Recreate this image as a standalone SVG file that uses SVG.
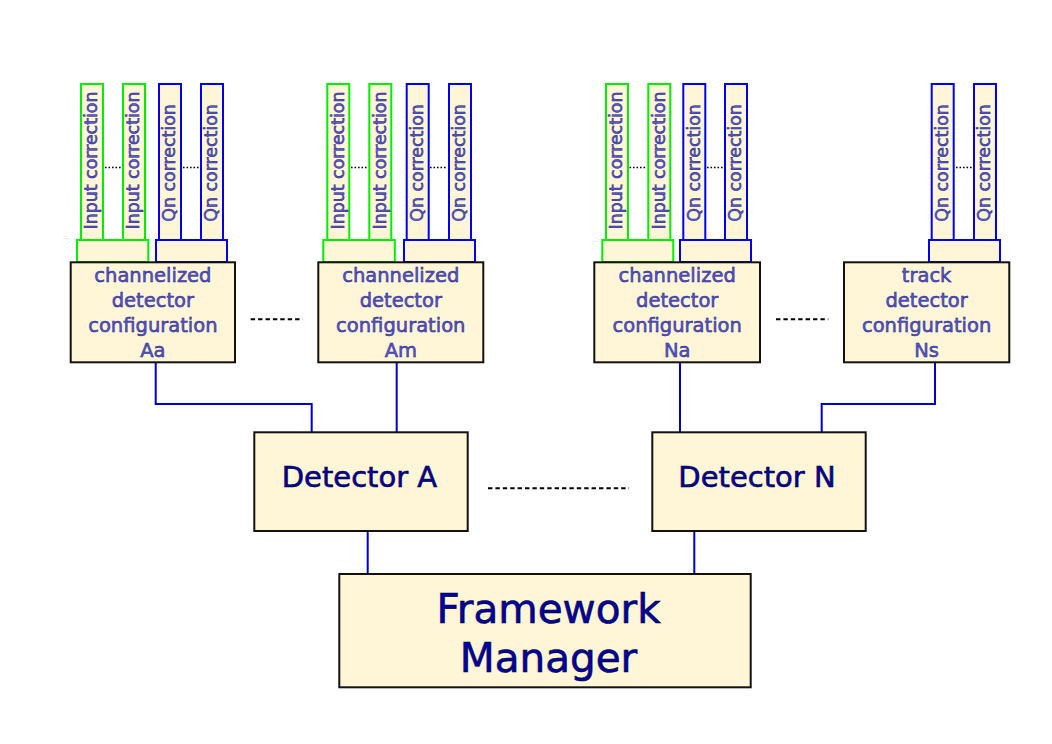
<svg xmlns="http://www.w3.org/2000/svg" width="1052" height="744" viewBox="0 0 1052 744">
<defs>
<style>
.box{fill:#fff5d7;stroke:#111;stroke-width:2}
.gbar{fill:#fff5d7;stroke:#00ee00;stroke-width:2}
.bbar{fill:#fff5d7;stroke:#0000ee;stroke-width:2}
.conn{fill:none;stroke:#0000cc;stroke-width:2}
.dash{fill:none;stroke:#000;stroke-width:2;stroke-dasharray:4.4 3}
.dot{fill:none;stroke:#000;stroke-width:1.6;stroke-dasharray:1.6 1.9}
.bt{font-family:"DejaVu Sans",sans-serif;font-size:17.4px;fill:#5a5ac8;stroke:#1e1e88;stroke-width:0.5;text-anchor:middle}
.ct{font-family:"DejaVu Sans",sans-serif;font-size:19.5px;fill:#5a5ac8;stroke:#1e1e88;stroke-width:0.5;text-anchor:middle}
.dt{font-family:"DejaVu Sans",sans-serif;font-size:29px;fill:#0000a8;stroke:#000022;stroke-width:0.6;text-anchor:middle}
.ft{font-family:"DejaVu Sans",sans-serif;font-size:40.5px;fill:#0000a8;stroke:#000022;stroke-width:0.6;text-anchor:middle}
</style>
</defs>
<rect width="1052" height="744" fill="#fff"/>

<g id="connectors">
<polyline class="conn" points="155.7,362 155.7,404 311.7,404 311.7,432"/>
<line class="conn" x1="396.7" y1="362" x2="396.7" y2="432"/>
<line class="conn" x1="680" y1="362" x2="680" y2="432"/>
<polyline class="conn" points="935,362 935,404 821.7,404 821.7,432"/>
<line class="conn" x1="367.7" y1="531" x2="367.7" y2="574"/>
<line class="conn" x1="694.3" y1="531" x2="694.3" y2="574"/>
<line class="dash" x1="250.7" y1="319.3" x2="302.7" y2="319.3"/>
<line class="dash" x1="776" y1="319.3" x2="828.3" y2="319.3"/>
<line class="dash" x1="488" y1="488.3" x2="629" y2="488.3"/>
<line class="dot" x1="105" y1="167.5" x2="121" y2="167.5"/>
<line class="dot" x1="183" y1="167.5" x2="199" y2="167.5"/>
<line class="dot" x1="351" y1="167.5" x2="367" y2="167.5"/>
<line class="dot" x1="430" y1="167.5" x2="447" y2="167.5"/>
<line class="dot" x1="629.5" y1="167.5" x2="646" y2="167.5"/>
<line class="dot" x1="707" y1="167.5" x2="723" y2="167.5"/>
<line class="dot" x1="956" y1="167.5" x2="972" y2="167.5"/>
</g>

<g id="config-Aa">
<rect class="gbar" x="81" y="84" width="22" height="156"/>
<text class="bt" transform="translate(97.3,160.5) rotate(-90)">Input correction</text>
<rect class="gbar" x="123" y="84" width="22" height="156"/>
<text class="bt" transform="translate(139.3,160.5) rotate(-90)">Input correction</text>
<rect class="bbar" x="159" y="84" width="22" height="156"/>
<text class="bt" transform="translate(175.3,163) rotate(-90)">Qn correction</text>
<rect class="bbar" x="201" y="84" width="22" height="156"/>
<text class="bt" transform="translate(217.3,163) rotate(-90)">Qn correction</text>
<rect class="gbar" x="77" y="240" width="71.3" height="22"/>
<rect class="bbar" x="156" y="240" width="71" height="22"/>
<rect class="box" x="70.7" y="262.3" width="164.3" height="100"/>
<text class="ct" x="152.9" y="282">channelized</text>
<text class="ct" x="152.9" y="307">detector</text>
<text class="ct" x="152.9" y="332">configuration</text>
<text class="ct" x="152.9" y="357">Aa</text>
</g>

<g id="config-Am">
<rect class="gbar" x="327.3" y="84" width="22" height="156"/>
<text class="bt" transform="translate(343.6,160.5) rotate(-90)">Input correction</text>
<rect class="gbar" x="369.3" y="84" width="22" height="156"/>
<text class="bt" transform="translate(385.6,160.5) rotate(-90)">Input correction</text>
<rect class="bbar" x="406.7" y="84" width="22" height="156"/>
<text class="bt" transform="translate(423,163) rotate(-90)">Qn correction</text>
<rect class="bbar" x="449" y="84" width="22" height="156"/>
<text class="bt" transform="translate(465.3,163) rotate(-90)">Qn correction</text>
<rect class="gbar" x="323.3" y="240" width="71.5" height="22"/>
<rect class="bbar" x="404" y="240" width="71" height="22"/>
<rect class="box" x="318.3" y="262.3" width="165" height="100"/>
<text class="ct" x="400.8" y="282">channelized</text>
<text class="ct" x="400.8" y="307">detector</text>
<text class="ct" x="400.8" y="332">configuration</text>
<text class="ct" x="400.8" y="357">Am</text>
</g>

<g id="config-Na">
<rect class="gbar" x="606" y="84" width="22" height="156"/>
<text class="bt" transform="translate(622.3,160.5) rotate(-90)">Input correction</text>
<rect class="gbar" x="648.3" y="84" width="22" height="156"/>
<text class="bt" transform="translate(664.6,160.5) rotate(-90)">Input correction</text>
<rect class="bbar" x="683.3" y="84" width="22" height="156"/>
<text class="bt" transform="translate(699.6,163) rotate(-90)">Qn correction</text>
<rect class="bbar" x="725" y="84" width="22" height="156"/>
<text class="bt" transform="translate(741.3,163) rotate(-90)">Qn correction</text>
<rect class="gbar" x="602.3" y="240" width="71" height="22"/>
<rect class="bbar" x="680" y="240" width="71" height="22"/>
<rect class="box" x="594.3" y="262.3" width="165.7" height="100"/>
<text class="ct" x="677.2" y="282">channelized</text>
<text class="ct" x="677.2" y="307">detector</text>
<text class="ct" x="677.2" y="332">configuration</text>
<text class="ct" x="677.2" y="357">Na</text>
</g>

<g id="config-Ns">
<rect class="bbar" x="931.7" y="84" width="22" height="156"/>
<text class="bt" transform="translate(948,163) rotate(-90)">Qn correction</text>
<rect class="bbar" x="974" y="84" width="22" height="156"/>
<text class="bt" transform="translate(990.3,163) rotate(-90)">Qn correction</text>
<rect class="bbar" x="929" y="240" width="71" height="22"/>
<rect class="box" x="844" y="262.3" width="165.3" height="100"/>
<text class="ct" x="926.6" y="282">track</text>
<text class="ct" x="926.6" y="307">detector</text>
<text class="ct" x="926.6" y="332">configuration</text>
<text class="ct" x="926.6" y="357">Ns</text>
</g>

<g id="detector-A">
<rect class="box" x="254.3" y="432.3" width="213.4" height="98.7"/>
<text class="dt" x="359.5" y="487">Detector A</text>
</g>

<g id="detector-N">
<rect class="box" x="652.3" y="432.3" width="213.4" height="98.7"/>
<text class="dt" x="757" y="487">Detector N</text>
</g>

<g id="framework-manager">
<rect class="box" x="339.3" y="574" width="411.4" height="113.3"/>
<text class="ft" x="548.5" y="623">Framework</text>
<text class="ft" x="548.5" y="672">Manager</text>
</g>
</svg>
